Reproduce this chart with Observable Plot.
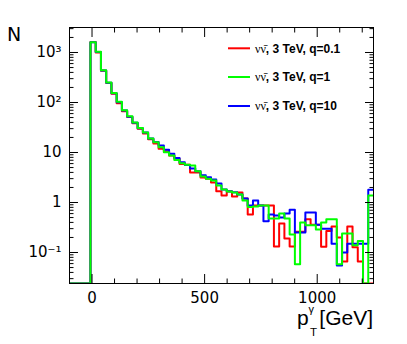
<!DOCTYPE html>
<html><head><meta charset="utf-8">
<script src="https://cdn.jsdelivr.net/npm/d3@7"></script>
<script src="https://cdn.jsdelivr.net/npm/@observablehq/plot@0.6"></script>
<style>html,body{margin:0;padding:0;background:#fff}svg{display:block}</style>
</head><body><div id="chart"></div>
<script>
// histogram binning (GeV)
const binLow = -100, binHigh = 1250, nBins = 58;
const seriesNames = ["q=0.1", "q=1", "q=10"];
const legendPrefix = "\u03BD\u03BD\u0304";
const legendSuffix = [", 3 TeV, q=0.1", ", 3 TeV, q=1", ", 3 TeV, q=10"];
const seriesColors = ["#ff0000", "#00ff00", "#0000ff"];
// bin contents (58 bins each)
const countsQ01 = [0,0,0,0,1620,1000,430,245,150,97,67,51,38.5,30,24,18.5,15.2,11.9,10.6,8.7,7.5,5.9,5.7,4.0,4.0,3.16,3.0,2.5,1.68,1.38,1.66,1.32,1.58,1.2,0.575,0.87,0.87,0.87,0.87,0.132,0.38,0.19,0.132,0.26,0.26,0.46,0.36,0.36,0.13,0.27,0.33,0.2,0.066,0.33,0.128,0.066,0,0];
const countsQ1  = [0,0,0,0,1600,1030,440,250,155,104,70,53,40,31,25,19,16.1,12.8,10.1,8.7,7.1,6.1,5.7,5.5,4.2,3.3,3.0,2.75,2.19,1.82,1.66,1.58,1.45,1.1,0.81,0.83,0.87,0.87,0.48,0.48,0.6,0.48,0.23,0.058,0.4,0.35,0.35,0.29,0.4,0.46,0.46,0.058,0.24,0.24,0.14,0.17,0,1.38];
const countsQ10 = [0,0,0,0,1610,1020,437,248,153,101,69,52,39.5,30.6,25,19,16.3,13.8,11.3,9.4,7.8,6.4,5.6,4.8,4.2,3.5,3.2,2.9,2.4,1.82,1.68,1.61,1.45,1.2,0.87,1.1,0.87,0.42,0.575,0.55,0.5,0.6,0.72,0.25,0.25,0.63,0.63,0.36,0.3,0.3,0.15,0.055,0.1,0.15,0.15,0.15,0.15,1.8];
const allCounts = [countsQ01, countsQ1, countsQ10];
// axes
const yDomain = [0.024, 3162];
const yMajorTicks = [0.1, 1, 10, 100, 1000];
const yTickLabels = ["10\u207B\u00B9", "1", "10", "10\u00B2", "10\u00B3"];
const xMajorTicks = [0, 500, 1000];
const xTickLabels = ["0", "500", "1000"];
const xMinorTicks = [-100, 100, 200, 300, 400, 600, 700, 800, 900, 1100, 1200];

const binWidth = (binHigh - binLow) / nBins;
const yMinorTicks = [];
for (let e = -2; e <= 3; e++) for (let m = 2; m <= 9; m++) {
  const v = m * Math.pow(10, e);
  if (v > yDomain[0] && v < yDomain[1]) yMinorTicks.push(v);
}
function rowsFor(s) {
  const c = allCounts[s];
  const rows = c.map((v, k) => ({x: binLow + k * binWidth, y: v > 0 ? v : yDomain[0], s}));
  rows.push({x: binHigh, y: rows[rows.length - 1].y, s});
  return rows;
}
const drawOrder = [0, 2, 1];
const lineMarks = drawOrder.map(s => Plot.line(rowsFor(s), {x: "x", y: "y", curve: "step-after", stroke: seriesColors[s], strokeWidth: 2, clip: true}));

const plot = Plot.plot({
  width: 407, height: 344,
  marginLeft: 69, marginRight: 34, marginTop: 27, marginBottom: 61,
  style: {fontFamily: "DejaVu Sans", fontSize: "15px", background: "white", color: "black"},
  x: {domain: [binLow, binHigh]},
  y: {type: "log", domain: yDomain},
  marks: [
    Plot.frame({stroke: "black", strokeWidth: 1}),
    ...lineMarks,
    Plot.axisY(yMajorTicks, {anchor: "left", tickSize: -9, tickPadding: 17, label: null, fontSize: 15,
      tickFormat: d => yTickLabels[yMajorTicks.indexOf(d)]}),
    Plot.axisY(yMinorTicks, {anchor: "left", tickSize: -4.5, fill: "none", label: null}),
    Plot.axisY(yMajorTicks, {anchor: "right", tickSize: -9, fill: "none", label: null}),
    Plot.axisY(yMinorTicks, {anchor: "right", tickSize: -4.5, fill: "none", label: null}),
    Plot.axisX(xMajorTicks, {anchor: "bottom", tickSize: -9, tickPadding: 18, label: null, fontSize: 15,
      tickFormat: d => xTickLabels[xMajorTicks.indexOf(d)]}),
    Plot.axisX(xMinorTicks, {anchor: "bottom", tickSize: -4.5, fill: "none", label: null}),
    Plot.axisX(xMajorTicks, {anchor: "top", tickSize: -9, fill: "none", label: null}),
    Plot.axisX(xMinorTicks, {anchor: "top", tickSize: -4.5, fill: "none", label: null})
  ]
});
document.getElementById("chart").appendChild(plot);

const svg = d3.select(plot);
// y title
svg.append("text").attr("x", 7).attr("y", 40.5).attr("text-anchor", "start").attr("font-family", "DejaVu Sans").attr("font-size", 19).attr("fill", "black").text("N");
// x title p_T^gamma [GeV]
const xt = svg.append("g").attr("font-family", "Liberation Sans, Arial, sans-serif").attr("fill", "black").attr("text-anchor", "start");
xt.append("text").attr("x", 297).attr("y", 325).attr("font-size", 21).text("p");
xt.append("text").attr("x", 308.5).attr("y", 312.5).attr("font-size", 11).text("\u03B3");
xt.append("text").attr("x", 310).attr("y", 336).attr("font-size", 11.5).text("T");
xt.append("text").attr("x", 373).attr("y", 325).attr("font-size", 21).attr("text-anchor", "end").text("[GeV]");
// legend
const legendY = [48.3, 77, 106];
seriesNames.forEach((name, i) => {
  svg.append("line").attr("x1", 228).attr("x2", 250).attr("y1", legendY[i]).attr("y2", legendY[i])
    .attr("stroke", seriesColors[i]).attr("stroke-width", 2);
  const t = svg.append("text").attr("x", 255).attr("y", legendY[i] + 4.3).attr("text-anchor", "start").attr("fill", "black").attr("font-size", 12);
  t.append("tspan").attr("font-family", "Liberation Serif, serif").text(legendPrefix);
  t.append("tspan").attr("font-family", "Liberation Sans, Arial, sans-serif").attr("font-weight", "bold").text(legendSuffix[i]);
});
</script></body></html>
